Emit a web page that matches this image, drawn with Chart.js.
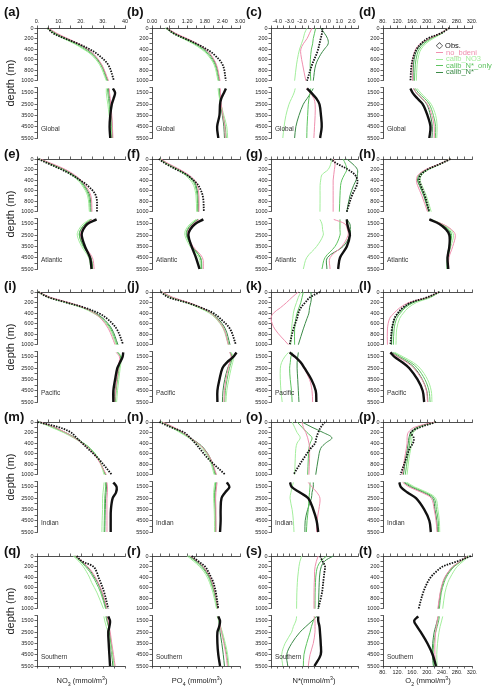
<!DOCTYPE html>
<html>
<head>
<meta charset="utf-8">
<script src="https://cdn.jsdelivr.net/npm/chart.js@4.4.1/dist/chart.umd.min.js"></script>
<style>
  body { margin: 0; background: #fff; }
  #fig { position: relative; width: 500px; height: 690px; overflow: hidden;
         font-family: 'Liberation Sans', Arial, sans-serif; color: #222; }
  #fig canvas { position: absolute; }
  .lbl { position: absolute; white-space: nowrap; line-height: 1; }
  .plab { font-weight: bold; font-size: 13px; color: #111; }
  .reg { font-size: 6.5px; color: #333; }
  .ytl { font-size: 11px; transform: translate(-50%, -50%) rotate(-90deg); }
  .xtl { font-size: 7.5px; transform: translate(-50%, -50%); }
  .xtl sub, .xtl sup { font-size: 70%; line-height: 0; }
  .leg { font-size: 7.5px; line-height: 7px; }
  .leg i { display: inline-block; width: 7px; height: 1px; vertical-align: middle; margin-right: 3px; }
</style>
</head>
<body>
<div id="fig"></div>
<script>
// depth levels (m) of the two sub-panels
const UP_DEPTH = [0, 100, 200, 300, 400, 500, 700, 1000];
const LO_DEPTH = [1100, 1500, 2000, 2500, 3500, 4500, 5500];

const SERIES = ['Obs.', 'no_bdeni', 'calib_NO3', 'calib_N*_only', 'calib_N*'];
const REGIONS = ['Global', 'Atlantic', 'Pacific', 'Indian', 'Southern'];
const LETTERS = 'abcdefghijklmnopqrst'.split('');

// rows in each block: Obs., no_bdeni, calib_NO3, calib_N*_only, calib_N*
const NO3_GLOBAL_UP = [
  [4.8, 7.4, 12.7, 18.8, 23.8, 27.6, 32.4, 35.0],
  [5.2, 9.0, 14.0, 19.0, 23.0, 26.0, 29.5, 32.5],
  [4.5, 7.5, 12.0, 17.0, 21.0, 24.5, 28.5, 31.5],
  [4.8, 8.0, 12.5, 17.5, 21.5, 25.0, 29.0, 31.8],
  [5.0, 8.5, 13.5, 18.5, 22.5, 25.5, 29.3, 32.2]];
const NO3_GLOBAL_LO = [
  [34.5, 35.5, 34.8, 34.0, 33.3, 33.0, 33.3],
  [32.8, 33.0, 33.3, 33.5, 34.0, 34.3, 34.5],
  [31.5, 31.5, 31.8, 32.2, 32.8, 33.5, 34.0],
  [32.0, 32.2, 32.5, 32.8, 33.3, 33.8, 34.0],
  [32.5, 32.7, 33.0, 33.3, 33.8, 34.2, 34.3]];
const PO4_GLOBAL_UP = [
  [0.50, 0.73, 1.12, 1.52, 1.86, 2.11, 2.41, 2.52],
  [0.52, 0.80, 1.20, 1.55, 1.82, 2.00, 2.20, 2.32],
  [0.45, 0.70, 1.05, 1.40, 1.68, 1.88, 2.12, 2.25],
  [0.47, 0.74, 1.10, 1.45, 1.72, 1.92, 2.15, 2.27],
  [0.50, 0.78, 1.15, 1.50, 1.78, 1.97, 2.18, 2.30]];
const PO4_GLOBAL_LO = [
  [2.52, 2.45, 2.36, 2.32, 2.30, 2.22, 2.26],
  [2.33, 2.33, 2.34, 2.36, 2.42, 2.48, 2.50],
  [2.25, 2.27, 2.30, 2.35, 2.45, 2.55, 2.58],
  [2.28, 2.29, 2.31, 2.35, 2.42, 2.50, 2.53],
  [2.30, 2.31, 2.32, 2.34, 2.40, 2.45, 2.47]];
const NSTAR_GLOBAL_UP = [
  [-0.35, -0.40, -0.50, -0.60, -0.70, -0.85, -1.20, -1.60],
  [-1.20, -1.40, -1.60, -1.90, -2.10, -2.10, -1.95, -1.70],
  [-1.60, -1.80, -1.90, -2.05, -2.20, -2.30, -2.45, -2.60],
  [-0.90, -1.00, -1.10, -1.15, -1.25, -1.30, -1.35, -1.30],
  [-0.50, -0.20, 0.05, 0.10, -0.20, -0.50, -0.90, -1.10]];
const NSTAR_GLOBAL_LO = [
  [-1.60, -1.25, -0.85, -0.60, -0.48, -0.42, -0.55],
  [-1.65, -1.35, -1.05, -0.95, -0.95, -1.00, -1.05],
  [-2.55, -2.65, -2.85, -3.05, -3.30, -3.45, -3.55],
  [-1.30, -1.35, -1.45, -1.50, -1.55, -1.60, -1.62],
  [-1.10, -1.30, -1.60, -1.90, -2.25, -2.50, -2.60]];
const O2_GLOBAL_UP = [
  [259, 236, 200, 182, 171, 164, 157, 154],
  [257, 235, 205, 180, 168, 163, 158, 160],
  [255, 240, 215, 195, 183, 177, 172, 170],
  [256, 238, 210, 190, 178, 172, 167, 165],
  [257, 236, 206, 185, 173, 167, 162, 161]];
const O2_GLOBAL_LO = [
  [154, 160, 173, 187, 200, 208, 205],
  [162, 170, 186, 200, 212, 218, 218],
  [172, 182, 197, 210, 222, 226, 225],
  [167, 176, 192, 205, 216, 222, 221],
  [163, 170, 185, 198, 208, 213, 212]];

const NO3_ATL_UP = [
  [0.6, 5.9, 11.2, 15.8, 19.5, 22.9, 26.8, 27.3],
  [1.5, 7.5, 13.0, 17.0, 20.0, 22.0, 24.5, 25.0],
  [0.8, 6.0, 11.5, 15.5, 18.5, 20.5, 23.0, 23.8],
  [1.0, 6.5, 12.0, 16.0, 19.0, 21.0, 23.5, 24.2],
  [1.2, 7.0, 12.5, 16.5, 19.5, 21.5, 24.0, 24.6]];
const NO3_ATL_LO = [
  [27.1, 22.9, 21.0, 20.3, 21.8, 24.1, 24.8],
  [25.0, 22.5, 20.5, 19.8, 21.8, 25.2, 26.0],
  [24.0, 21.0, 19.0, 18.3, 20.3, 23.5, 24.5],
  [24.5, 21.8, 19.8, 19.2, 21.0, 24.4, 25.3],
  [24.8, 22.0, 20.0, 19.3, 21.3, 24.5, 25.3]];
const PO4_ATL_UP = [
  [0.23, 0.50, 0.84, 1.18, 1.41, 1.58, 1.73, 1.77],
  [0.30, 0.60, 0.95, 1.25, 1.45, 1.55, 1.60, 1.60],
  [0.25, 0.50, 0.85, 1.12, 1.30, 1.42, 1.50, 1.52],
  [0.27, 0.55, 0.90, 1.17, 1.36, 1.47, 1.54, 1.56],
  [0.28, 0.57, 0.92, 1.20, 1.40, 1.50, 1.57, 1.58]];
const PO4_ATL_LO = [
  [1.75, 1.47, 1.30, 1.24, 1.35, 1.50, 1.62],
  [1.60, 1.40, 1.25, 1.22, 1.40, 1.72, 1.75],
  [1.50, 1.30, 1.15, 1.12, 1.30, 1.60, 1.65],
  [1.55, 1.35, 1.20, 1.17, 1.35, 1.66, 1.70],
  [1.57, 1.37, 1.22, 1.19, 1.37, 1.65, 1.68]];
const NSTAR_ATL_UP = [
  [0.25, 0.90, 1.70, 2.25, 2.45, 2.40, 2.00, 1.60],
  [0.50, 0.65, 0.60, 0.55, 0.50, 0.50, 0.50, 0.50],
  [0.40, 0.30, 0.10, -0.40, -0.50, -0.55, -0.55, -0.56],
  [1.30, 1.50, 1.60, 1.40, 1.20, 1.10, 1.05, 1.00],
  [1.60, 2.10, 2.45, 2.45, 2.35, 2.15, 1.85, 1.60]];
const NSTAR_ATL_LO = [
  [1.60, 1.64, 1.75, 1.85, 1.60, 1.05, 0.90],
  [0.55, 1.45, 1.65, 1.70, 1.20, 0.25, 0.25],
  [-0.56, -0.40, -0.35, -0.30, -0.83, -1.63, -1.90],
  [1.05, 1.05, 1.05, 1.05, 0.65, -0.16, -0.40],
  [1.60, 1.85, 1.88, 1.85, 1.30, 0.03, 0.00]];
const O2_ATL_UP = [
  [262, 232, 200, 182, 178, 182, 193, 205],
  [262, 230, 195, 175, 170, 173, 185, 200],
  [260, 235, 203, 185, 180, 185, 197, 210],
  [261, 233, 200, 180, 175, 180, 192, 205],
  [262, 232, 198, 178, 173, 178, 190, 203]];
const O2_ATL_LO = [
  [205, 232, 250, 259, 259, 254, 256],
  [205, 240, 265, 275, 268, 258, 257],
  [210, 240, 262, 270, 263, 255, 255],
  [206, 236, 258, 265, 260, 254, 253],
  [205, 234, 255, 262, 258, 253, 253]];

const NO3_PAC_UP = [
  [0.6, 5.2, 13.5, 21.8, 27.9, 31.7, 36.2, 39.2],
  [0.8, 6.0, 14.5, 21.5, 26.0, 29.0, 32.5, 35.5],
  [0.5, 5.0, 13.0, 20.5, 25.5, 29.0, 33.0, 36.0],
  [0.6, 5.3, 13.5, 21.0, 26.0, 29.5, 33.5, 36.3],
  [0.7, 5.6, 14.0, 21.5, 26.5, 30.0, 34.0, 36.8]];
const NO3_PAC_LO = [
  [39.2, 38.9, 37.7, 36.5, 35.5, 34.7, 34.7],
  [36.0, 37.5, 37.3, 37.0, 36.3, 35.7, 35.3],
  [37.0, 38.5, 38.2, 37.8, 37.2, 36.6, 36.2],
  [36.5, 38.0, 37.7, 37.3, 36.6, 36.0, 35.6],
  [36.8, 38.0, 37.5, 37.0, 36.2, 35.5, 35.0]];
const PO4_PAC_UP = [
  [0.30, 0.56, 1.18, 1.69, 2.09, 2.32, 2.66, 2.86],
  [0.35, 0.70, 1.25, 1.70, 2.00, 2.20, 2.45, 2.60],
  [0.32, 0.62, 1.15, 1.60, 1.95, 2.17, 2.43, 2.60],
  [0.33, 0.65, 1.20, 1.65, 2.00, 2.20, 2.45, 2.62],
  [0.34, 0.68, 1.22, 1.68, 2.02, 2.24, 2.50, 2.66]];
const PO4_PAC_LO = [
  [2.88, 2.77, 2.55, 2.40, 2.30, 2.23, 2.23],
  [2.65, 2.70, 2.65, 2.60, 2.52, 2.47, 2.45],
  [2.70, 2.78, 2.75, 2.70, 2.62, 2.55, 2.52],
  [2.68, 2.74, 2.70, 2.64, 2.56, 2.50, 2.48],
  [2.66, 2.72, 2.66, 2.58, 2.48, 2.42, 2.40]];
const NSTAR_PAC_UP = [
  [-0.55, -1.35, -1.75, -2.10, -2.30, -2.40, -2.70, -3.00],
  [-2.30, -2.80, -3.25, -3.75, -4.30, -4.50, -4.20, -3.10],
  [-2.10, -2.30, -2.45, -2.60, -2.70, -2.75, -2.85, -2.90],
  [-1.90, -2.00, -2.10, -2.25, -2.40, -2.50, -2.60, -2.60],
  [-1.30, -1.25, -1.30, -1.40, -1.45, -1.60, -1.90, -2.30]];
const NSTAR_PAC_LO = [
  [-3.00, -2.55, -2.10, -1.80, -1.25, -0.90, -0.85],
  [-3.00, -2.55, -2.15, -1.85, -1.40, -1.20, -1.15],
  [-3.10, -3.40, -3.65, -3.75, -3.75, -3.70, -3.60],
  [-2.80, -2.90, -2.95, -3.00, -2.95, -2.85, -2.80],
  [-2.30, -2.35, -2.40, -2.40, -2.35, -2.30, -2.25]];
const O2_PAC_UP = [
  [232, 200, 155, 133, 120, 111, 104, 100],
  [230, 200, 150, 125, 110, 98, 92, 92],
  [232, 210, 170, 148, 135, 125, 117, 115],
  [232, 205, 162, 140, 127, 117, 110, 108],
  [232, 202, 157, 136, 122, 112, 105, 103]];
const O2_PAC_LO = [
  [100, 111, 133, 151, 173, 187, 191],
  [100, 120, 145, 163, 185, 197, 200],
  [112, 135, 162, 180, 200, 210, 212],
  [108, 128, 155, 173, 193, 204, 207],
  [103, 122, 148, 166, 186, 198, 201]];

const NO3_IND_UP = [
  [0.3, 10.0, 15.5, 18.0, 20.5, 23.0, 28.0, 34.0],
  [1.5, 8.0, 13.0, 17.0, 20.5, 23.5, 27.5, 31.5],
  [1.0, 6.5, 12.0, 16.5, 20.5, 24.0, 28.0, 30.5],
  [1.2, 7.0, 12.5, 17.0, 21.0, 24.2, 28.0, 31.0],
  [1.3, 7.5, 13.0, 17.5, 21.0, 24.0, 27.8, 31.2]];
const NO3_IND_LO = [
  [34.7, 36.2, 35.9, 34.4, 33.6, 33.5, 33.5],
  [31.8, 32.0, 32.0, 31.8, 31.8, 31.8, 31.8],
  [30.5, 30.3, 30.0, 29.8, 29.8, 29.6, 29.5],
  [31.2, 31.2, 31.0, 30.8, 30.7, 30.6, 30.5],
  [31.5, 31.6, 31.4, 31.2, 31.0, 30.9, 30.8]];
const PO4_IND_UP = [
  [0.25, 0.65, 1.10, 1.30, 1.47, 1.62, 1.92, 2.50],
  [0.35, 0.75, 1.05, 1.30, 1.55, 1.75, 2.00, 2.20],
  [0.30, 0.65, 0.95, 1.25, 1.50, 1.70, 1.95, 2.12],
  [0.32, 0.70, 1.00, 1.28, 1.55, 1.75, 1.98, 2.15],
  [0.33, 0.72, 1.02, 1.30, 1.57, 1.77, 2.00, 2.18]];
const PO4_IND_LO = [
  [2.55, 2.64, 2.49, 2.37, 2.34, 2.34, 2.32],
  [2.22, 2.20, 2.18, 2.17, 2.18, 2.18, 2.18],
  [2.14, 2.12, 2.10, 2.10, 2.12, 2.13, 2.13],
  [2.17, 2.15, 2.13, 2.13, 2.15, 2.16, 2.16],
  [2.19, 2.17, 2.15, 2.15, 2.16, 2.17, 2.17]];
const NSTAR_IND_UP = [
  [-0.15, -0.50, -0.70, -0.85, -0.95, -1.30, -1.90, -2.70],
  [-2.00, -1.90, -1.70, -1.55, -1.45, -1.40, -1.40, -1.45],
  [-2.80, -2.60, -2.40, -2.15, -2.40, -2.50, -2.55, -2.60],
  [-2.40, -2.00, -1.60, -1.20, -1.35, -1.45, -1.50, -1.55],
  [-2.00, -1.20, -0.30, 0.40, -0.10, -0.50, -0.70, -0.90]];
const NSTAR_IND_LO = [
  [-2.97, -2.84, -2.17, -1.50, -1.10, -0.83, -0.70],
  [-1.50, -1.20, -0.80, -0.56, -0.65, -0.80, -0.83],
  [-2.70, -2.80, -2.90, -2.97, -2.80, -2.70, -2.65],
  [-1.36, -1.36, -1.40, -1.45, -1.50, -1.60, -1.65],
  [-1.10, -1.10, -1.20, -1.25, -1.55, -1.75, -1.77]];
const O2_IND_UP = [
  [223, 180, 155, 163, 161, 152, 142, 127],
  [220, 165, 148, 145, 145, 143, 138, 132],
  [222, 178, 162, 158, 157, 155, 150, 145],
  [222, 175, 158, 153, 152, 150, 146, 140],
  [222, 172, 155, 150, 148, 146, 141, 135]];
const O2_IND_LO = [
  [124, 128, 146, 169, 191, 205, 209],
  [133, 150, 185, 210, 218, 223, 226],
  [145, 165, 200, 222, 228, 232, 233],
  [140, 160, 195, 218, 224, 229, 230],
  [136, 155, 190, 214, 220, 225, 227]];

const NO3_SO_UP = [
  [18.0, 20.5, 25.6, 27.1, 27.9, 28.9, 30.6, 32.4],
  [17.5, 20.5, 23.0, 25.0, 26.5, 27.8, 29.8, 31.8],
  [16.5, 19.0, 21.0, 22.5, 23.8, 24.8, 27.3, 30.2],
  [17.0, 19.7, 22.0, 24.0, 25.5, 26.8, 29.0, 31.2],
  [17.3, 20.2, 22.7, 24.6, 26.0, 27.5, 29.5, 31.5]];
const NO3_SO_LO = [
  [32.4, 33.2, 32.9, 32.4, 32.6, 32.9, 33.2],
  [31.8, 32.3, 32.8, 33.3, 34.0, 34.8, 35.5],
  [30.4, 30.8, 31.5, 32.3, 33.3, 34.2, 35.0],
  [31.3, 31.8, 32.5, 33.0, 33.7, 34.4, 35.0],
  [31.6, 32.0, 32.6, 33.0, 33.5, 34.0, 34.5]];
const PO4_SO_UP = [
  [1.35, 1.58, 1.81, 1.92, 2.01, 2.09, 2.18, 2.26],
  [1.30, 1.55, 1.75, 1.88, 1.98, 2.05, 2.15, 2.25],
  [1.20, 1.42, 1.62, 1.77, 1.88, 1.96, 2.08, 2.20],
  [1.25, 1.48, 1.68, 1.82, 1.93, 2.00, 2.12, 2.23],
  [1.28, 1.52, 1.72, 1.85, 1.96, 2.03, 2.14, 2.24]];
const PO4_SO_LO = [
  [2.26, 2.32, 2.29, 2.23, 2.23, 2.26, 2.32],
  [2.25, 2.30, 2.33, 2.37, 2.45, 2.52, 2.57],
  [2.22, 2.28, 2.34, 2.40, 2.50, 2.58, 2.62],
  [2.24, 2.29, 2.33, 2.38, 2.47, 2.55, 2.60],
  [2.25, 2.28, 2.30, 2.32, 2.38, 2.43, 2.47]];
const NSTAR_SO_UP = [
  [-0.55, -0.35, -0.15, -0.20, -0.25, -0.30, -0.40, -0.70],
  [-0.70, -0.85, -0.95, -1.00, -1.00, -1.02, -1.04, -1.04],
  [-2.03, -2.17, -2.25, -2.30, -2.35, -2.38, -2.42, -2.44],
  [-0.02, -0.50, -0.75, -0.85, -0.90, -0.92, -0.95, -0.96],
  [0.50, -0.20, -0.45, -0.55, -0.60, -0.62, -0.65, -0.69]];
const NSTAR_SO_LO = [
  [-0.70, -0.70, -0.60, -0.56, -0.50, -0.50, -1.00],
  [-1.04, -0.96, -0.96, -0.96, -1.10, -1.36, -1.50],
  [-2.44, -2.50, -2.70, -2.84, -3.37, -3.64, -3.55],
  [-0.96, -1.10, -1.25, -1.36, -1.63, -1.85, -1.90],
  [-0.80, -1.20, -1.70, -2.17, -2.84, -3.24, -3.15]];
const O2_SO_UP = [
  [317, 281, 241, 223, 209, 200, 188, 176],
  [308, 288, 268, 256, 247, 241, 234, 228],
  [312, 296, 280, 270, 262, 255, 247, 241],
  [310, 291, 272, 260, 251, 245, 237, 232],
  [309, 289, 269, 257, 248, 242, 235, 229]];
const O2_SO_LO = [
  [175, 164, 172, 182, 200, 214, 223],
  [228, 226, 224, 222, 220, 220, 222],
  [241, 238, 234, 231, 227, 225, 226],
  [232, 230, 226, 222, 217, 215, 218],
  [229, 226, 222, 218, 214, 213, 216]];

// panel grid: rows = regions, columns = NO3, PO4, N*, O2
const PANELS = [
  [[NO3_GLOBAL_UP, NO3_GLOBAL_LO], [PO4_GLOBAL_UP, PO4_GLOBAL_LO], [NSTAR_GLOBAL_UP, NSTAR_GLOBAL_LO], [O2_GLOBAL_UP, O2_GLOBAL_LO]],
  [[NO3_ATL_UP, NO3_ATL_LO], [PO4_ATL_UP, PO4_ATL_LO], [NSTAR_ATL_UP, NSTAR_ATL_LO], [O2_ATL_UP, O2_ATL_LO]],
  [[NO3_PAC_UP, NO3_PAC_LO], [PO4_PAC_UP, PO4_PAC_LO], [NSTAR_PAC_UP, NSTAR_PAC_LO], [O2_PAC_UP, O2_PAC_LO]],
  [[NO3_IND_UP, NO3_IND_LO], [PO4_IND_UP, PO4_IND_LO], [NSTAR_IND_UP, NSTAR_IND_LO], [O2_IND_UP, O2_IND_LO]],
  [[NO3_SO_UP, NO3_SO_LO], [PO4_SO_UP, PO4_SO_LO], [NSTAR_SO_UP, NSTAR_SO_LO], [O2_SO_UP, O2_SO_LO]]
];

const near = (v, m) => Math.abs(v / m - Math.round(v / m)) < 1e-6;
const X_AXES = [
  { min: 0, max: 40, step: 5, fmt: v => near(v, 10) ? (v === 40 ? '40' : v + '.') : '' },
  { min: 0, max: 3, step: 0.3, fmt: v => near(v, 0.6) ? v.toFixed(2) : '' },
  { min: -4.5, max: 2.5, step: 0.5, fmt: v => near(v, 1) ? v.toFixed(1) : '' },
  { min: 80, max: 320, step: 20, fmt: v => near(v, 40) ? v + '.' : '' }
];
const X_TITLES = ['NO<sub>3</sub> (mmol/m<sup>3</sup>)', 'PO<sub>4</sub> (mmol/m<sup>3</sup>)',
                  'N*(mmol/m<sup>3</sup>)', 'O<sub>2</sub> (mmol/m<sup>3</sup>)'];

const COLORS = ['#111111', '#ef8fae', '#a3ee9c', '#5cc35e', '#3b8a47'];

// layout (px)
const COL_X = [37, 152, 271, 383];
const COL_W = [88, 88, 87, 89];
const ROW_TOP = [28, 159, 292, 422, 556];
const UP_H = 53, LO_OFF = 59, LO_H = 51, YW = 30, PAD_R = 8;
const TICK_FONT = { family: 'Liberation Sans', size: 5.5 };

const fig = document.getElementById('fig');

function place(html, left, top, cls) {
  const d = document.createElement('div');
  d.className = 'lbl ' + cls;
  d.innerHTML = html;
  d.style.left = left + 'px';
  d.style.top = top + 'px';
  fig.appendChild(d);
  return d;
}

function axisStyle() {
  return {
    grid: { drawOnChartArea: false, drawTicks: true, tickLength: 2.5, color: '#222', lineWidth: 0.7 },
    border: { display: true, color: '#222', width: 0.8 }
  };
}

function buildChart(r, c, part) {
  const isUp = part === 0;
  const lastRow = r === ROW_TOP.length - 1;
  const ax = X_AXES[c];
  const block = PANELS[r][c][part];
  const depths = isUp ? UP_DEPTH : LO_DEPTH;
  const xH = isUp ? 16 : (lastRow ? 14 : 0);
  const padTop = isUp ? 0 : 4;
  const padBot = isUp ? 4 : (lastRow ? 0 : 5);
  const plotH = isUp ? UP_H : LO_H;
  const w = YW + COL_W[c] + PAD_R;
  const h = padTop + xH + plotH + padBot;
  const showLab = (isUp && r === 0) || (!isUp && lastRow && c === 3);

  const cv = document.createElement('canvas');
  cv.width = w; cv.height = h;
  cv.style.left = (COL_X[c] - YW) + 'px';
  cv.style.top = (isUp ? ROW_TOP[r] - xH : ROW_TOP[r] + LO_OFF - padTop) + 'px';
  fig.appendChild(cv);

  const datasets = block.map((vals, k) => ({
    label: SERIES[k],
    data: vals.map((v, i) => ({ x: v, y: depths[i] })),
    showLine: true,
    borderColor: COLORS[k],
    borderWidth: k === 0 ? (isUp ? 1.8 : 2.4) : 1,
    borderDash: k === 0 && isUp ? [1.5, 1.2] : [],
    pointRadius: 0,
    tension: 0.35,
    clip: 3
  }));

  new Chart(cv, {
    type: 'scatter',
    data: { datasets },
    options: {
      responsive: false,
      animation: false,
      devicePixelRatio: 1,
      events: [],
      layout: { padding: { top: padTop, right: PAD_R, bottom: padBot, left: 0 } },
      plugins: { legend: { display: false }, tooltip: { enabled: false } },
      scales: {
        x: Object.assign(axisStyle(), {
          type: 'linear', min: ax.min, max: ax.max,
          position: isUp ? 'top' : 'bottom',
          display: isUp || lastRow,
          afterFit: s => { s.height = xH; },
          ticks: { stepSize: ax.step, autoSkip: false, maxRotation: 0, padding: 1,
                   font: TICK_FONT, color: '#222', callback: v => showLab ? ax.fmt(v) : '' }
        }),
        y: Object.assign(axisStyle(), {
          type: 'linear', reverse: true,
          min: isUp ? 0 : 1000, max: isUp ? 1000 : 5500,
          afterFit: s => { s.width = YW; },
          ticks: { stepSize: isUp ? 100 : 500, autoSkip: false, padding: 1,
                   font: TICK_FONT, color: '#222',
                   callback: v => isUp ? (v % 200 === 0 ? v : '') : ((v - 1500) % 1000 === 0 ? v : '') }
        })
      }
    }
  });
}

const LETTER_X = [4, 127, 246, 359];
const LETTER_Y = [12, 154, 286, 417, 551];

ROW_TOP.forEach((top, r) => {
  for (let c = 0; c < 4; c++) {
    buildChart(r, c, 0);
    buildChart(r, c, 1);
    place('(' + LETTERS[r * 4 + c] + ')', LETTER_X[c], LETTER_Y[r] - 7, 'plab');
    place(REGIONS[r], COL_X[c] + 4, top + LO_OFF + LO_H - 12, 'reg');
  }
  place('depth (m)', 10, top + 55, 'ytl');
});

X_TITLES.forEach((t, c) => {
  place(t, [82, 197, 314, 428][c], 681, 'xtl');
});

// legend of panel (d)
SERIES.forEach((name, k) => {
  const mark = k === 0 ? '<span style="font-size:8.5px">&#9671;</span> ' : '<i style="background:' + COLORS[k] + '"></i>';
  const d = place(mark + name, 436, 42 + k * 6.5, 'leg');
  d.style.color = COLORS[k];
});
</script>
</body>
</html>
